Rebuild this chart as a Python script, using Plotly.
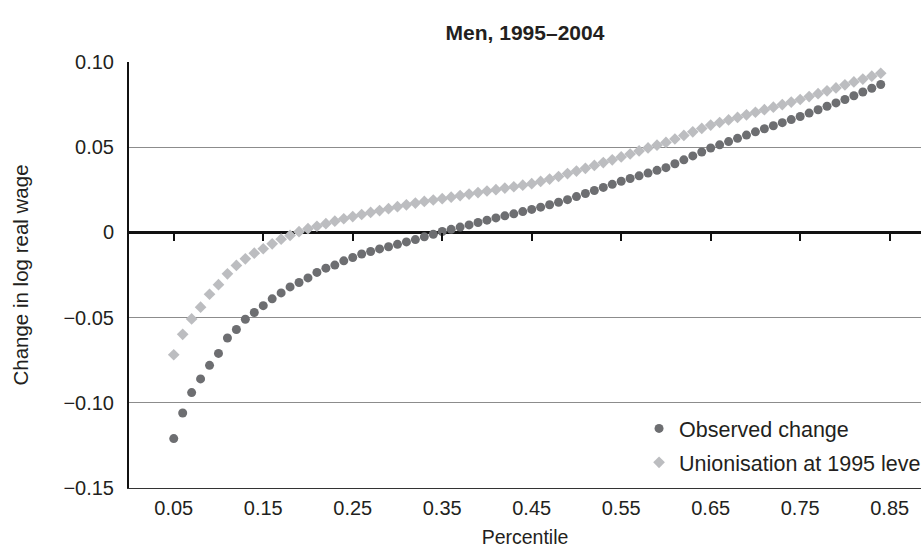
import plotly.graph_objects as go

percentile = [0.05, 0.06, 0.07, 0.08, 0.09, 0.10, 0.11, 0.12, 0.13, 0.14,
              0.15, 0.16, 0.17, 0.18, 0.19, 0.20, 0.21, 0.22, 0.23, 0.24,
              0.25, 0.26, 0.27, 0.28, 0.29, 0.30, 0.31, 0.32, 0.33, 0.34,
              0.35, 0.36, 0.37, 0.38, 0.39, 0.40, 0.41, 0.42, 0.43, 0.44,
              0.45, 0.46, 0.47, 0.48, 0.49, 0.50, 0.51, 0.52, 0.53, 0.54,
              0.55, 0.56, 0.57, 0.58, 0.59, 0.60, 0.61, 0.62, 0.63, 0.64,
              0.65, 0.66, 0.67, 0.68, 0.69, 0.70, 0.71, 0.72, 0.73, 0.74,
              0.75, 0.76, 0.77, 0.78, 0.79, 0.80, 0.81, 0.82, 0.83, 0.84]

observed_change = [-0.121, -0.106, -0.094, -0.086, -0.078, -0.071, -0.062, -0.057, -0.051, -0.047,
                   -0.043, -0.039, -0.0355, -0.032, -0.0294, -0.0267, -0.0235, -0.021, -0.0192, -0.0167,
                   -0.0147, -0.0127, -0.0112, -0.0097, -0.0084, -0.0070, -0.0056, -0.0042, -0.0026, -0.0011,
                   0.0005, 0.0018, 0.0031, 0.0044, 0.0058, 0.0072, 0.0085, 0.0097, 0.0109, 0.0122,
                   0.0135, 0.0148, 0.0162, 0.0177, 0.0192, 0.0210, 0.0228, 0.0246, 0.0264, 0.0282,
                   0.0300, 0.0316, 0.0332, 0.0348, 0.0364, 0.0380, 0.0403, 0.0426, 0.0449, 0.0472,
                   0.0495, 0.0514, 0.0533, 0.0552, 0.0571, 0.0590, 0.0608, 0.0626, 0.0644, 0.0662,
                   0.0680, 0.0700, 0.0720, 0.0740, 0.0760, 0.0780, 0.0802, 0.0824, 0.0846, 0.0868]

union_1995 = [-0.0718, -0.0598, -0.0508, -0.0439, -0.0363, -0.0307, -0.0243, -0.0194, -0.0155, -0.0122,
              -0.0096, -0.0067, -0.0040, -0.0018, 0.0004, 0.0022, 0.0036, 0.0051, 0.0066, 0.0080,
              0.0093, 0.0105, 0.0117, 0.0128, 0.0139, 0.0151, 0.0162, 0.0172, 0.0182, 0.0190,
              0.0198, 0.0207, 0.0216, 0.0225, 0.0234, 0.0243, 0.0251, 0.0260, 0.0268, 0.0277,
              0.0286, 0.0299, 0.0313, 0.0328, 0.0345, 0.0360, 0.0376, 0.0393, 0.0410, 0.0426,
              0.0443, 0.0460, 0.0478, 0.0496, 0.0512, 0.0528, 0.0548, 0.0569, 0.0590, 0.0610,
              0.0630, 0.0645, 0.0660, 0.0675, 0.0690, 0.0705, 0.0720, 0.0735, 0.0750, 0.0765,
              0.0780, 0.0797, 0.0814, 0.0831, 0.0848, 0.0866, 0.0883, 0.0900, 0.0917, 0.0934]

x_tickvals = [0.05, 0.15, 0.25, 0.35, 0.45, 0.55, 0.65, 0.75, 0.85]
x_ticktext = ["0.05", "0.15", "0.25", "0.35", "0.45", "0.55", "0.65", "0.75", "0.85"]
y_tickvals = [-0.15, -0.10, -0.05, 0, 0.05, 0.10]
y_ticktext = ["\u22120.15", "\u22120.10", "\u22120.05", "0", "0.05", "0.10"]

FONT = "Liberation Sans, Arial, Helvetica, sans-serif"
TXT = "#231f20"

fig = go.Figure()
fig.add_trace(go.Scatter(
    x=percentile, y=observed_change, mode="markers", name="Observed change",
    legendgroup="a",
    marker=dict(symbol="circle", size=9, color="#6d6e71")))
fig.add_trace(go.Scatter(
    x=percentile, y=union_1995, mode="markers", name="Unionisation at 1995 level",
    legendgroup="b",
    marker=dict(symbol="diamond", size=9, color="#bcbdc0")))
# helper trace for the tick axis on the zero line
fig.add_trace(go.Scatter(x=[None], y=[None], xaxis="x2", showlegend=False,
                         hoverinfo="skip"))

fig.update_layout(
    width=921, height=550,
    margin=dict(l=129, r=0, t=62, b=62, autoexpand=False),
    paper_bgcolor="white", plot_bgcolor="white",
    font=dict(family=FONT, size=20, color=TXT),
    title=dict(text="<b>Men, 1995\u20132004</b>", x=0.5, xref="paper",
               xanchor="center", y=1 - 33 / 550, yanchor="middle",
               font=dict(size=21, color=TXT)),
    xaxis=dict(range=[0, 0.885], tickvals=x_tickvals, ticktext=x_ticktext,
               showgrid=False, zeroline=False, showline=True,
               linecolor="#333333", linewidth=1,
               ticks="outside", ticklen=2, tickcolor="rgba(0,0,0,0)",
               title=dict(text="Percentile", standoff=12, font=dict(size=19.5))),
    xaxis2=dict(range=[0, 0.885], overlaying="x", anchor="free", position=0.6,
                side="bottom", tickvals=x_tickvals, showticklabels=False,
                showgrid=False, zeroline=False, showline=False,
                ticks="outside", ticklen=8, tickwidth=2, tickcolor="#111111"),
    yaxis=dict(range=[-0.15, 0.10], tickvals=y_tickvals, ticktext=y_ticktext,
               showgrid=True, gridcolor="#8c8c8c", gridwidth=1,
               zeroline=True, zerolinecolor="#111111", zerolinewidth=2.5,
               showline=True, linecolor="#111111", linewidth=2,
               ticks="outside", ticklen=9, tickcolor="rgba(0,0,0,0)",
               title=dict(text="Change in log real wage", standoff=29,
                          font=dict(size=20.5))),
    legend=dict(x=0.644, xanchor="left", y=0.188, yanchor="top",
                bgcolor="rgba(0,0,0,0)", traceorder="grouped",
                tracegroupgap=3, font=dict(size=21.5, color=TXT)),
    showlegend=True,
)

fig.write_html("out.html")
